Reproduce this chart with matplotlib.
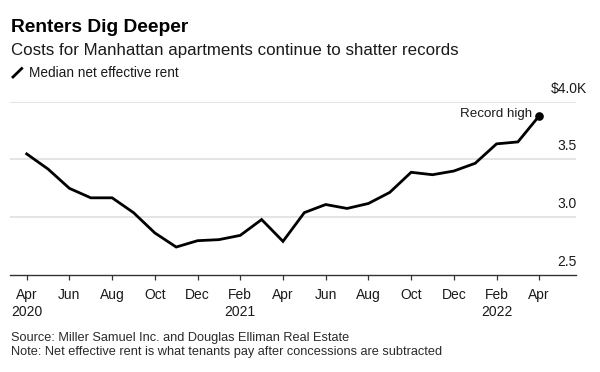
import matplotlib
matplotlib.use("Agg")
import matplotlib.pyplot as plt
from matplotlib.lines import Line2D
import matplotlib.transforms as mtransforms

plt.rcParams['font.family'] = ['Liberation Sans', 'DejaVu Sans']

months = ["Apr 2020", "May 2020", "Jun 2020", "Jul 2020", "Aug 2020", "Sep 2020",
          "Oct 2020", "Nov 2020", "Dec 2020", "Jan 2021", "Feb 2021", "Mar 2021",
          "Apr 2021", "May 2021", "Jun 2021", "Jul 2021", "Aug 2021", "Sep 2021",
          "Oct 2021", "Nov 2021", "Dec 2021", "Jan 2022", "Feb 2022", "Mar 2022",
          "Apr 2022"]
rent = [3.548, 3.417, 3.250, 3.168, 3.168, 3.040, 2.864, 2.742, 2.797, 2.806,
        2.843, 2.980, 2.791, 3.040, 3.110, 3.076, 3.119, 3.215, 3.389, 3.368,
        3.400, 3.467, 3.635, 3.652, 3.878]
xtick_labels = ["Apr\n2020", "Jun", "Aug", "Oct", "Dec", "Feb\n2021", "Apr", "Jun",
                "Aug", "Oct", "Dec", "Feb\n2022", "Apr"]
ytick_values = [2.5, 3.0, 3.5, 4.0]
ytick_labels = ["2.5", "3.0", "3.5", "$4.0K"]

W, H = 600, 372
fig = plt.figure(figsize=(6, 3.72), dpi=100)
ax = fig.add_axes([10/W, 1 - 275/H, 566/W, (275 - 101.7)/H])

x = list(range(len(rent)))
ax.plot(x, rent, color="black", lw=2.0, solid_joinstyle="miter", clip_on=False, zorder=3)
ax.plot([x[-1]], [rent[-1]], "o", color="black", ms=5.2, clip_on=False, zorder=4)
ax.annotate("Record high", (x[-1], rent[-1]), xytext=(-5.5, 1.5), textcoords="offset points",
            ha="right", va="center", fontsize=9.6, color="#1a1a1a")

ax.set_xlim(-0.782, 25.72)
ax.set_ylim(2.5, 4.0)

for v in ytick_values[1:]:
    ax.axhline(v, color="#e2e2e2", lw=1.3, zorder=1)

trans = mtransforms.blended_transform_factory(fig.transFigure, ax.transData)
offset = mtransforms.ScaledTranslation(0, 6.5/72, fig.dpi_scale_trans)
for v, lab in zip(ytick_values, ytick_labels):
    xr = 587.3/W if lab.endswith("K") else 576.7/W
    ax.text(xr, v, lab, transform=trans + offset, ha="right", va="baseline",
            fontsize=10, color="#1a1a1a")

for s in ["top", "right", "left"]:
    ax.spines[s].set_visible(False)
ax.spines["bottom"].set_color("#333333")
ax.spines["bottom"].set_linewidth(1.0)
ax.set_yticks([])
ax.set_xticks(list(range(0, 25, 2)))
ax.set_xticklabels(xtick_labels, fontsize=10, color="#1a1a1a", linespacing=1.25)
ax.tick_params(axis="x", length=3.6, width=0.9, color="#333333", pad=6)

fig.text(11/W, 1 - 31.7/H, "Renters Dig Deeper", fontsize=13.8, fontweight="bold",
         color="black", ha="left", va="baseline")
fig.text(11/W, 1 - 55/H, "Costs for Manhattan apartments continue to shatter records",
         fontsize=12.15, color="#1a1a1a", ha="left", va="baseline")
fig.add_artist(Line2D([13/W, 21.7/W], [1 - 77/H, 1 - 68.5/H], color="black", lw=2.0,
                      transform=fig.transFigure))
fig.text(29/W, 1 - 77.3/H, "Median net effective rent", fontsize=9.8,
         color="#1a1a1a", ha="left", va="baseline")
fig.text(11/W, 1 - 341/H, "Source: Miller Samuel Inc. and Douglas Elliman Real Estate",
         fontsize=9.2, color="#2a2a2a", ha="left", va="baseline")
fig.text(11/W, 1 - 355/H, "Note: Net effective rent is what tenants pay after concessions are subtracted",
         fontsize=9.2, color="#2a2a2a", ha="left", va="baseline")

fig.savefig("out.png", dpi=100)
